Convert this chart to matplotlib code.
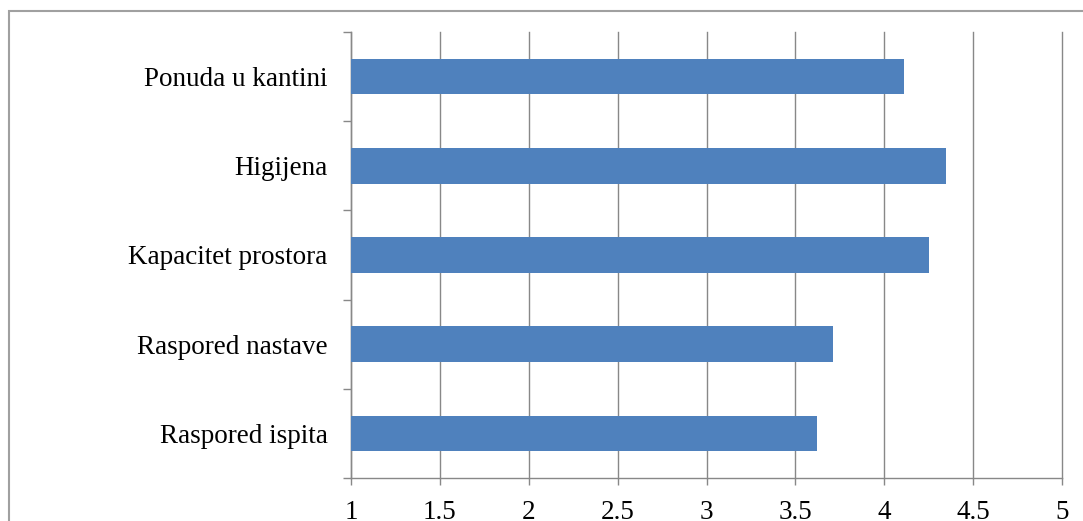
import matplotlib.pyplot as plt
from matplotlib.patches import Rectangle
from matplotlib.ticker import FixedLocator

categories = ['Ponuda u kantini', 'Higijena', 'Kapacitet prostora',
              'Raspored nastave', 'Raspored ispita']
scores = [4.11, 4.35, 4.25, 3.71, 3.62]
x_ticks = [1, 1.5, 2, 2.5, 3, 3.5, 4, 4.5, 5]
x_labels = ['1', '1.5', '2', '2.5', '3', '3.5', '4', '4.5', '5']

plt.rcParams['font.family'] = ['Liberation Serif', 'DejaVu Serif']

fig = plt.figure(figsize=(10.83, 5.21), dpi=100)
ax = fig.add_axes([351 / 1083, 1 - 478 / 521, (1062 - 351) / 1083, (478 - 32) / 521])

# outer chart frame (cut off at right and bottom like the reference)
fig.patches.append(Rectangle((9 / 1083, -0.05), 1.1, 1 - 11 / 521 + 0.05,
                             transform=fig.transFigure, fill=False,
                             edgecolor='#a0a0a0', linewidth=1.5))

ypos = list(range(len(categories)))[::-1]
ax.barh(ypos, [s - 1 for s in scores], left=1, height=0.4,
        color='#4f81bd', zorder=3)

ax.set_xlim(1, 5)
ax.set_ylim(-0.5, len(categories) - 0.5)
ax.set_xticks(x_ticks)
ax.set_xticklabels(x_labels, fontsize=19.5)
ax.set_yticks(ypos)
ax.set_yticklabels(categories, fontsize=19.5)
ax.yaxis.set_minor_locator(FixedLocator([i - 0.5 for i in range(len(categories) + 1)]))

ax.tick_params(axis='y', which='major', length=0, pad=17)
ax.tick_params(axis='y', which='minor', length=6, color='#888888', width=1)
ax.tick_params(axis='x', length=5, color='#888888', width=1, pad=11)

ax.grid(axis='x', color='#888888', linewidth=1, zorder=0)
for gl in ax.get_xgridlines():
    gl.set_clip_on(False)
for side in ['top', 'right']:
    ax.spines[side].set_visible(False)
for side in ['left', 'bottom']:
    ax.spines[side].set_color('#888888')
    ax.spines[side].set_linewidth(1)

fig.savefig('out.png', dpi=100)
